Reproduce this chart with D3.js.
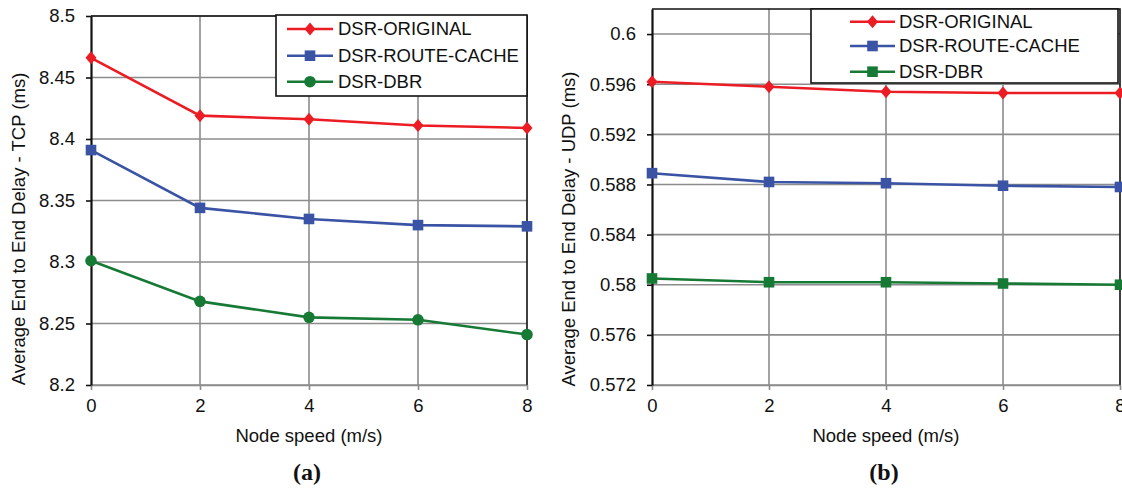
<!DOCTYPE html>
<html>
<head>
<meta charset="utf-8">
<script src="https://cdn.jsdelivr.net/npm/d3@7"></script>
<style>
  body { margin: 0; background: #fff; }
  text { font-family: "Liberation Sans", Arial, sans-serif; fill: #111; }
</style>
</head>
<body>
<div class="chart-div"></div>
<script>
//--------------------------- Data

var speeds = [0, 2, 4, 6, 8];
var seriesNames = ["DSR-ORIGINAL", "DSR-ROUTE-CACHE", "DSR-DBR"];

var tcpOriginal = [8.466, 8.419, 8.416, 8.411, 8.409];
var tcpRouteCache = [8.391, 8.344, 8.335, 8.330, 8.329];
var tcpDbr = [8.301, 8.268, 8.255, 8.253, 8.241];

var udpOriginal = [0.5962, 0.5958, 0.5954, 0.5953, 0.5953];
var udpRouteCache = [0.5889, 0.5882, 0.5881, 0.5879, 0.5878];
var udpDbr = [0.5805, 0.5802, 0.5802, 0.5801, 0.5800];

var tcpTicks = [8.2, 8.25, 8.3, 8.35, 8.4, 8.45, 8.5];
var udpTicks = [0.572, 0.576, 0.58, 0.584, 0.588, 0.592, 0.596, 0.6];

//--------------------------- SVG definition

var width = 1122;
var height = 489;

var svg = d3.select("div.chart-div")
    .append("svg")
    .attr("width", width)
    .attr("height", height);

var colors = ["#ec1c24", "#3a53a4", "#167a35"];

//--------------------------- Panels

var panels = [
    {
        series: [tcpOriginal, tcpRouteCache, tcpDbr],
        markers: ["diamond", "square", "circle"],
        ticks: tcpTicks, digits: 2,
        x0: 91, x1: 527, yDomain: [8.2, 8.5], yTop: 16,
        ylabel: "Average End to End Delay - TCP (ms)", ylabelX: 25,
        caption: "(a)",
        legend: { x0: 276, x1: 527, y0: 15, y1: 96, rows: [29, 55.7, 81.7], lx0: 287, lx1: 333, tx: 338 }
    },
    {
        series: [udpOriginal, udpRouteCache, udpDbr],
        markers: ["diamond", "square", "square"],
        ticks: udpTicks, digits: 3,
        x0: 652, x1: 1120, yDomain: [0.572, 0.602], yTop: 9,
        ylabel: "Average End to End Delay - UDP (ms)", ylabelX: 575,
        caption: "(b)",
        legend: { x0: 811, x1: 1118, y0: 9, y1: 83, rows: [21.7, 46, 71.7], lx0: 850, lx1: 895, tx: 899 }
    }
];

var yBottom = 385;

function drawMarker(g, type, x, y, color) {
    if (type == "diamond") {
        g.append("path")
            .attr("d", "M" + x + "," + (y - 6.5) + "L" + (x + 5.5) + "," + y + "L" + x + "," + (y + 6.5) + "L" + (x - 5.5) + "," + y + "Z")
            .style("fill", color);
    } else if (type == "square") {
        g.append("rect")
            .attr("x", x - 5.3).attr("y", y - 5.3)
            .attr("width", 10.6).attr("height", 10.6)
            .style("fill", color);
    } else {
        g.append("circle")
            .attr("cx", x).attr("cy", y).attr("r", 5.8)
            .style("fill", color);
    }
}

panels.forEach(function (p) {

    var x = d3.scaleLinear().domain([0, 8]).range([p.x0, p.x1]);
    var y = d3.scaleLinear().domain(p.yDomain).range([yBottom, p.yTop]);
    var g = svg.append("g");

    //--------------- Grid lines

    g.selectAll(".vgrid")
        .data(speeds.slice(1, -1))
        .enter().append("line")
        .attr("x1", function (d) { return x(d); })
        .attr("x2", function (d) { return x(d); })
        .attr("y1", p.yTop).attr("y2", yBottom)
        .style("stroke", "#8c8c8c").style("stroke-width", 1.6);

    g.selectAll(".hgrid")
        .data(p.ticks)
        .enter().append("line")
        .attr("x1", p.x0).attr("x2", p.x1)
        .attr("y1", function (d) { return y(d); })
        .attr("y2", function (d) { return y(d); })
        .style("stroke", "#8c8c8c").style("stroke-width", 1.6);

    //--------------- Top and right border

    g.append("path")
        .attr("d", "M" + p.x0 + "," + p.yTop + "H" + p.x1 + "V" + yBottom)
        .style("fill", "none").style("stroke", "#111").style("stroke-width", 1.6);

    //--------------- Axes

    var fmt = function (d) { return String(+d.toFixed(p.digits)); };

    var xAxis = g.append("g")
        .attr("transform", "translate(0," + yBottom + ")")
        .call(d3.axisBottom(x).tickValues(speeds).tickSize(5).tickPadding(9).tickSizeOuter(0));
    xAxis.select(".domain").style("stroke", "#8c8c8c").style("stroke-width", 1.6);
    xAxis.selectAll(".tick line").style("stroke", "#8c8c8c").style("stroke-width", 1.6);
    xAxis.selectAll("text").style("font-size", "18.5px").style("font-family", "Liberation Sans, Arial");

    var yAxis = g.append("g")
        .attr("transform", "translate(" + p.x0 + ",0)")
        .call(d3.axisLeft(y).tickValues(p.ticks).tickFormat(fmt).tickSize(5).tickPadding(11).tickSizeOuter(0));
    yAxis.select(".domain").style("stroke", "#111").style("stroke-width", 2.2);
    yAxis.selectAll(".tick line").style("stroke", "#111").style("stroke-width", 1.6);
    yAxis.selectAll("text").style("font-size", "18.5px").style("font-family", "Liberation Sans, Arial");

    //--------------- Axis titles and caption

    g.append("text")
        .attr("x", (p.x0 + p.x1) / 2).attr("y", 442)
        .attr("text-anchor", "middle")
        .style("font-size", "18.5px")
        .text("Node speed (m/s)");

    g.append("text")
        .attr("transform", "translate(" + p.ylabelX + "," + 229 + ")rotate(-90)")
        .attr("text-anchor", "middle")
        .style("font-size", "18.5px")
        .text(p.ylabel);

    g.append("text")
        .attr("x", (p.x0 + p.x1) / 2 - 2).attr("y", 480)
        .attr("text-anchor", "middle")
        .style("font-family", "Liberation Serif, Times New Roman, serif")
        .style("font-weight", "bold")
        .style("font-size", "24px")
        .text(p.caption);

    //--------------- Series

    var line = d3.line()
        .x(function (d, i) { return x(speeds[i]); })
        .y(function (d) { return y(d); });

    p.series.forEach(function (vals, k) {
        g.append("path")
            .attr("d", line(vals))
            .style("fill", "none")
            .style("stroke", colors[k])
            .style("stroke-width", 2.6);
        vals.forEach(function (v, i) {
            drawMarker(g, p.markers[k], x(speeds[i]), y(v), colors[k]);
        });
    });

    //--------------- Legend

    var L = p.legend;
    var lg = g.append("g");
    lg.append("rect")
        .attr("x", L.x0).attr("y", L.y0)
        .attr("width", L.x1 - L.x0).attr("height", L.y1 - L.y0)
        .style("fill", "#fff").style("stroke", "#111").style("stroke-width", 1.6);

    seriesNames.forEach(function (name, k) {
        var ry = L.rows[k];
        lg.append("line")
            .attr("x1", L.lx0).attr("x2", L.lx1)
            .attr("y1", ry).attr("y2", ry)
            .style("stroke", colors[k]).style("stroke-width", 2.6);
        drawMarker(lg, p.markers[k], (L.lx0 + L.lx1) / 2, ry, colors[k]);
        lg.append("text")
            .attr("x", L.tx).attr("y", ry)
            .attr("dy", "0.35em")
            .style("font-size", "18.5px")
            .text(name);
    });
});
</script>
</body>
</html>
